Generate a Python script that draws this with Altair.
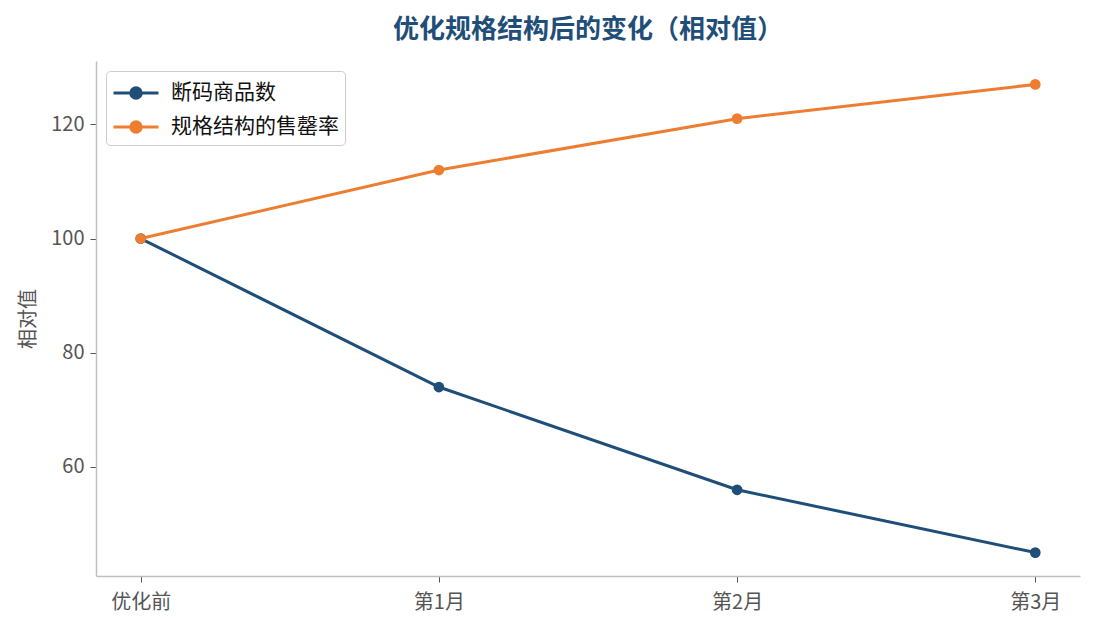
import pandas as pd
import altair as alt

# data
periods = ['优化前', '第1月', '第2月', '第3月']
broken_size = [100, 74, 56, 45]
sellthrough = [100, 112, 121, 127]
series_names = ['断码商品数', '规格结构的售罄率']
series_colors = ['#1f4e79', '#ed7d31']

rows = []
for name, vals in zip(series_names, [broken_size, sellthrough]):
    for p, v in zip(periods, vals):
        rows.append({'period': p, 'value': v, 'series': name})
df = pd.DataFrame(rows)

font = 'Noto Sans CJK SC'
color_scale = alt.Scale(domain=series_names, range=series_colors)

# legend symbol: a line wider than the unit box with a dot in the middle
sym = 'M-1.6,0H1.6M-0.37,0a0.37,0.37 0 1,0 0.74,0a0.37,0.37 0 1,0 -0.74,0'

base = alt.Chart(df).encode(
    x=alt.X('period:N', sort=periods, title=None,
            scale=alt.Scale(type='point', padding=0.15),
            axis=alt.Axis(labelAngle=0, labelPadding=10)),
    y=alt.Y('value:Q', title='相对值',
            scale=alt.Scale(domain=[40.9, 131.1], nice=False, zero=False),
            axis=alt.Axis(values=[60, 80, 100, 120], labelPadding=6, titlePadding=12)),
)

lines = base.mark_line(strokeWidth=3).encode(
    color=alt.Color('series:N', scale=color_scale, sort=series_names,
                    legend=alt.Legend(title=None, orient='top-left',
                                      symbolType=sym, symbolSize=790,
                                      symbolStrokeWidth=3, offset=10,
                                      symbolOffset=8, labelOffset=19,
                                      labelLimit=400)),
)
points = base.mark_circle(size=115, opacity=1).encode(
    color=alt.Color('series:N', scale=color_scale, sort=series_names, legend=None),
)

chart = (lines + points).properties(
    width=984, height=515,
    padding={'left': 10, 'top': 9, 'right': 5, 'bottom': 5},
    title=alt.TitleParams('优化规格结构后的变化（相对值）', fontSize=26,
                          fontWeight='bold', color='#1f4e79', font=font,
                          offset=18),
).configure(font=font).configure_view(stroke=None).configure_axis(
    grid=False, domainColor='#bfbfbf', domainWidth=1.5, tickColor='#555555',
    tickSize=6, labelColor='#555555', labelFontSize=20, labelFont=font,
    titleColor='#555555', titleFontSize=20, titleFontWeight='normal', titleFont=font,
).configure_legend(
    labelFontSize=21, labelColor='#111111', labelFont=font,
    fillColor='white', strokeColor='#cccccc', cornerRadius=4, padding=6,
    rowPadding=6,
)

chart.save('out.html', embed_options={'renderer': 'svg', 'actions': False})
